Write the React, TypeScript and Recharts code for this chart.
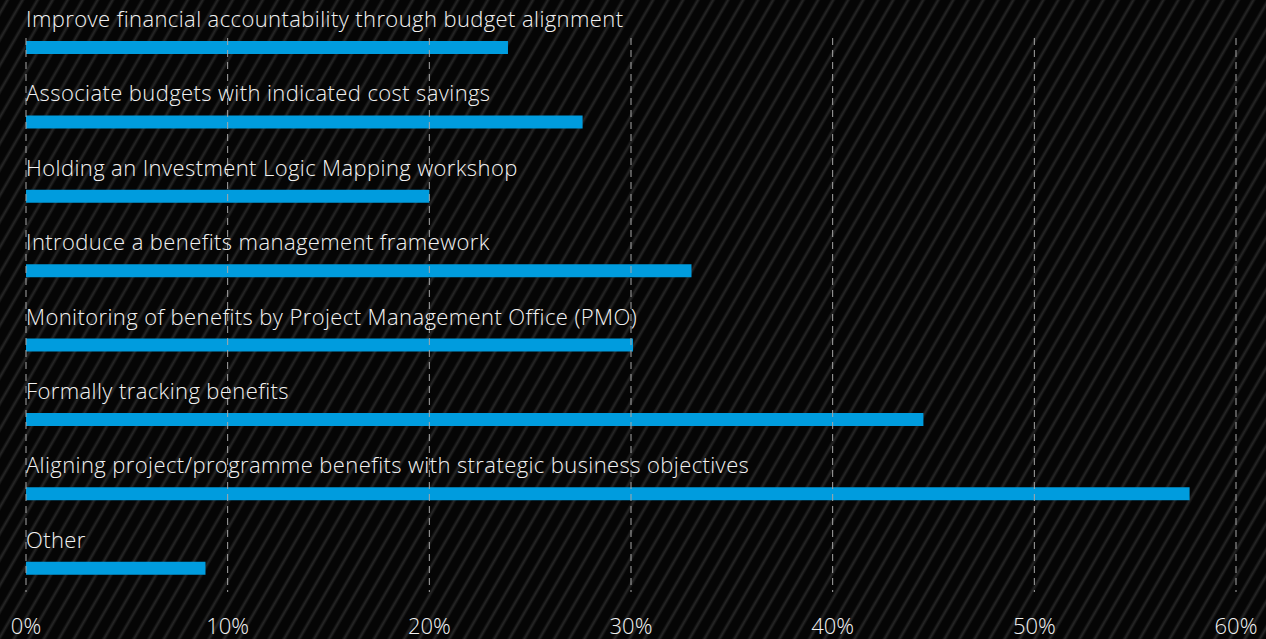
import React from 'react';
import { BarChart, Bar, XAxis, YAxis, ReferenceLine, LabelList } from 'recharts';

const categories = [
  'Improve financial accountability through budget alignment',
  'Associate budgets with indicated cost savings',
  'Holding an Investment Logic Mapping workshop',
  'Introduce a benefits management framework',
  'Monitoring of benefits by Project Management Office (PMO)',
  'Formally tracking benefits',
  'Aligning project/programme benefits with strategic business objectives',
  'Other',
];
const values = [23.9, 27.6, 20.0, 33.0, 30.1, 44.5, 57.7, 8.9];
const xTicks = [0, 10, 20, 30, 40, 50, 60];

const data = categories.map((name, i) => ({ name, value: values[i] }));

const FONT = '"Open Sans", Roboto, sans-serif';

const GridLine = (props: any) => {
  const top = Math.min(props.y1, props.y2);
  const bottom = Math.max(props.y1, props.y2);
  return (
    <line
      x1={props.x1}
      x2={props.x2}
      y1={top + 28}
      y2={bottom - 13}
      stroke="#a8a8a8"
      strokeWidth={1}
      strokeDasharray="7 5"
    />
  );
};

const CatLabel = (props: any) => {
  const { x, y, value } = props;
  return (
    <text
      x={x}
      y={y - 14}
      fill="#f2f2f2"
      fontSize={22}
      fontWeight={300}
      letterSpacing={0.4}
      fontFamily={FONT}
    >
      {value}
    </text>
  );
};

const XTick = (props: any) => {
  const { x, y, payload } = props;
  return (
    <text
      x={x}
      y={y}
      dy={21}
      textAnchor="middle"
      fill="#f2f2f2"
      fontSize={22}
      fontWeight={300}
      fontFamily={FONT}
    >
      {payload.value}%
    </text>
  );
};

export default function App() {
  return (
    <div
      style={{
        position: 'absolute',
        left: 0,
        top: 0,
        width: 1266,
        height: 639,
        background:
          'repeating-linear-gradient(120deg, #050505 0px, #050505 4px, #262626 6.5px, #050505 9px, #050505 13px)',
      }}
    >
      <BarChart
        width={1266}
        height={639}
        data={data}
        layout="vertical"
        margin={{ top: 10, right: 30, left: 26, bottom: 4 }}
      >
        <XAxis
          type="number"
          domain={[0, 60]}
          ticks={xTicks}
          axisLine={false}
          tickLine={false}
          height={30}
          tick={<XTick />}
          interval={0}
        />
        <YAxis type="category" dataKey="name" hide />
        <Bar dataKey="value" fill="#009cde" barSize={13} isAnimationActive={false}>
          <LabelList dataKey="name" content={<CatLabel />} />
        </Bar>
        {xTicks.map((t) => (
          <ReferenceLine key={t} x={t} shape={<GridLine />} />
        ))}
      </BarChart>
    </div>
  );
}
